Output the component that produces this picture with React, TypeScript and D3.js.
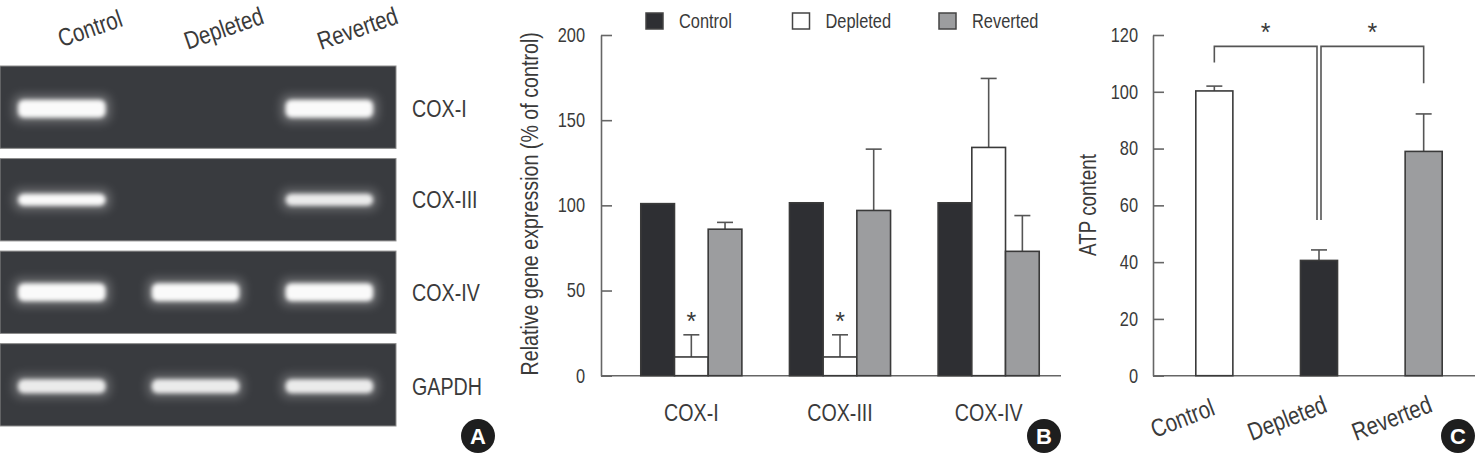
import React, { useEffect, useRef } from "react";
import * as d3 from "d3";

const W = 1475;
const H = 459;
const FONT = "'Liberation Sans', Arial, sans-serif";
const SX = 0.82; // horizontal condensing of text
const TEXT = "#3a3a3a";
const AXIS = "#666666";
const DARK = "#2e2f33";
const GRAY = "#9c9d9f";
const GEL = "#393b3f";

// ---- Panel A (gel) ----
const lanes = ["Control", "Depleted", "Reverted"];
const gelGenes = ["COX-I", "COX-III", "COX-IV", "GAPDH"];
const bandCOX1 = [1, 0, 1];
const bandCOX3 = [1, 0, 0.9];
const bandCOX4 = [1, 1, 1];
const bandGAPDH = [0.9, 0.9, 0.9];
const gelBands = [bandCOX1, bandCOX3, bandCOX4, bandGAPDH];

// ---- Panel B ----
const bGenes = ["COX-I", "COX-III", "COX-IV"];
const bSeries = ["Control", "Depleted", "Reverted"];
const controlExpr = [101, 101.5, 101.5];
const controlSD = [0, 0, 0];
const depletedExpr = [11, 11, 134];
const depletedSD = [13, 13, 40.5];
const revertedExpr = [86, 97, 73];
const revertedSD = [4, 36, 21];
const bTicks = [0, 50, 100, 150, 200];
const bStars = [true, true, false];
const bStarValue = 35.6;

// ---- Panel C ----
const atpGroups = ["Control", "Depleted", "Reverted"];
const atpMean = [100.3, 40.6, 79];
const atpSD = [1.7, 3.7, 13.2];
const cTicks = [0, 20, 40, 60, 80, 100, 120];
const brackets = [
  { from: "Control", to: "Depleted", top: 116, fromEnd: 110.3, toEnd: 54.8, side: -1 },
  { from: "Depleted", to: "Reverted", top: 116, fromEnd: 54.8, toEnd: 103, side: 1 },
];
const bracketStarValue = 123;

function T(props: {
  x: number;
  y: number;
  rotate?: number;
  size: number;
  anchor?: string;
  dy?: string;
  fill?: string;
  sx?: number;
  children: React.ReactNode;
}) {
  const { x, y, rotate = 0, size, anchor = "start", dy = "0.36em", fill = TEXT, sx = SX, children } = props;
  return (
    <text
      transform={`translate(${x},${y}) rotate(${rotate}) scale(${sx},1)`}
      dy={dy}
      textAnchor={anchor}
      fontFamily={FONT}
      fontSize={size}
      fill={fill}
    >
      {children}
    </text>
  );
}

export default function App() {
  const yAxisB = useRef<SVGGElement>(null);
  const yAxisC = useRef<SVGGElement>(null);

  // Panel A scales
  const xLane = d3.scaleBand<string>().domain(lanes).range([0, 396]).paddingInner(0.3).paddingOuter(0.13).align(0.43);
  const yRow = d3.scaleBand<string>().domain(gelGenes).range([66, 426]).paddingInner(0.11).paddingOuter(0);
  const bandH = [22, 16, 22, 18];
  const bandDy = [1.5, 0, 0, 1.5];

  // Panel B scales
  const yB = d3.scaleLinear().domain([0, 200]).range([375.7, 35]);
  const x0 = d3.scaleBand<string>().domain(bGenes).range([617, 1063]).paddingInner(0.32).paddingOuter(0.16);
  const x1 = d3.scaleBand<string>().domain(bSeries).range([0, x0.bandwidth()]);
  const bMeans = [controlExpr, depletedExpr, revertedExpr];
  const bSDs = [controlSD, depletedSD, revertedSD];
  const bFills = [DARK, "#ffffff", GRAY];

  // Panel C scales
  const yC = d3.scaleLinear().domain([0, 120]).range([375.7, 35]);
  const xC = d3.scaleBand<string>().domain(atpGroups).range([1162, 1476]).paddingInner(0.646).paddingOuter(0.323);
  const cFills = ["#ffffff", DARK, GRAY];

  useEffect(() => {
    const style = (g: any) => {
      g.attr("font-family", FONT).attr("font-size", 20).attr("color", AXIS);
      g.selectAll("text").attr("fill", TEXT).attr("transform", `scale(${SX},1)`);
      g.selectAll("line,path").attr("stroke-width", 1.6);
    };
    d3.select(yAxisB.current as SVGGElement)
      .call(d3.axisLeft(yB).tickValues(bTicks).tickSizeInner(-11).tickSizeOuter(0).tickPadding(16 / SX) as any)
      .call(style);
    d3.select(yAxisC.current as SVGGElement)
      .call(d3.axisLeft(yC).tickValues(cTicks).tickSizeInner(-11).tickSizeOuter(0).tickPadding(15 / SX) as any)
      .call(style);
  }, []);

  const badge = (cx: number, label: string) => (
    <g>
      <circle cx={cx} cy={436} r={17} fill="#1e1e1e" />
      <text x={cx} y={436} dy="0.36em" textAnchor="middle" fill="#fff" fontFamily={FONT} fontWeight="bold" fontSize={22}>
        {label}
      </text>
    </g>
  );

  return (
    <div style={{ position: "absolute", left: 0, top: 0, width: W, height: H, background: "#fff" }}>
      <svg width={W} height={H} style={{ display: "block" }}>
        <defs>
          <filter id="glow" x="-20%" y="-80%" width="140%" height="260%">
            <feGaussianBlur stdDeviation="2.2" />
          </filter>
          <filter id="halo" x="-30%" y="-150%" width="160%" height="400%">
            <feGaussianBlur stdDeviation="5" />
          </filter>
        </defs>

        {/* ---------------- Panel A ---------------- */}
        <g>
          {lanes.map((l) => (
            <T key={l} x={xLane(l)! + xLane.bandwidth() / 2 + 28} y={28} rotate={-19} size={25} anchor="middle">
              {l}
            </T>
          ))}
          {gelGenes.map((g, gi) => {
            const y = yRow(g)!;
            const cy = y + yRow.bandwidth() / 2 + bandDy[gi];
            const h = bandH[gi];
            return (
              <g key={g}>
                <rect x={0} y={y} width={396} height={yRow.bandwidth()} fill={GEL} stroke="#8c8c8c" strokeWidth={1} />
                {gelBands[gi].map((v, li) =>
                  v > 0 ? (
                    <g key={li}>
                      <rect
                        x={xLane(lanes[li])! - 2}
                        y={cy - h / 2 - 3}
                        width={xLane.bandwidth() + 4}
                        height={h + 6}
                        rx={8}
                        fill="#ffffff"
                        opacity={0.25 * v}
                        filter="url(#halo)"
                      />
                      <rect
                        x={xLane(lanes[li])! + 3}
                        y={cy - h / 2 + 2}
                        width={xLane.bandwidth() - 6}
                        height={h - 4}
                        rx={6}
                        fill="#fafafa"
                        opacity={v}
                        filter="url(#glow)"
                      />
                    </g>
                  ) : null
                )}
                <T x={412} y={cy} size={24}>
                  {g}
                </T>
              </g>
            );
          })}
          {badge(478, "A")}
        </g>

        {/* ---------------- Panel B ---------------- */}
        <g>
          {bSeries.map((s, si) => (
            <g key={s} transform={`translate(${646 + si * 146.5},13)`}>
              <rect x={0} y={0} width={17} height={16} fill={bFills[si]} stroke="#444" strokeWidth={1.5} />
              <T x={33} y={8} size={20}>
                {s}
              </T>
            </g>
          ))}
          <T x={530} y={(375.7 + 32) / 2} rotate={-90} size={24} anchor="middle" dy="0.35em">
            Relative gene expression (% of control)
          </T>
          <g ref={yAxisB} transform="translate(601,0)" />
          <line x1={601} x2={1061} y1={yB(0)} y2={yB(0)} stroke={AXIS} strokeWidth={1.6} />
          {bGenes.map((g, gi) => (
            <g key={g}>
              {bSeries.map((s, si) => {
                const x = x0(g)! + x1(s)!;
                const v = bMeans[si][gi];
                const sd = bSDs[si][gi];
                const cx = x + x1.bandwidth() / 2;
                return (
                  <g key={s}>
                    {sd > 0 && (
                      <g stroke="#555" strokeWidth={1.6}>
                        <line x1={cx} x2={cx} y1={yB(v)} y2={yB(v + sd)} />
                        <line x1={cx - 8} x2={cx + 8} y1={yB(v + sd)} y2={yB(v + sd)} />
                      </g>
                    )}
                    <rect x={x} y={yB(v)} width={x1.bandwidth()} height={yB(0) - yB(v)} fill={bFills[si]} stroke="#3a3a3a" strokeWidth={1.6} />
                    {si === 1 && bStars[gi] && (
                      <T x={cx} y={yB(bStarValue)} size={25} anchor="middle" dy="0.58em" sx={1}>
                        *
                      </T>
                    )}
                  </g>
                );
              })}
              <T x={x0(g)! + x0.bandwidth() / 2} y={412} size={24} anchor="middle">
                {g}
              </T>
            </g>
          ))}
          {badge(1044, "B")}
        </g>

        {/* ---------------- Panel C ---------------- */}
        <g>
          <T x={1088} y={205} rotate={-90} size={23} anchor="middle" dy="0.35em">
            ATP content
          </T>
          <g ref={yAxisC} transform="translate(1153,0)" />
          <line x1={1153} x2={1475} y1={yC(0)} y2={yC(0)} stroke={AXIS} strokeWidth={1.6} />
          {atpGroups.map((g, i) => {
            const x = xC(g)!;
            const cx = x + xC.bandwidth() / 2;
            const v = atpMean[i];
            return (
              <g key={g}>
                <g stroke="#555" strokeWidth={1.6}>
                  <line x1={cx} x2={cx} y1={yC(v)} y2={yC(v + atpSD[i])} />
                  <line x1={cx - 8} x2={cx + 8} y1={yC(v + atpSD[i])} y2={yC(v + atpSD[i])} />
                </g>
                <rect x={x} y={yC(v)} width={xC.bandwidth()} height={yC(0) - yC(v)} fill={cFills[i]} stroke="#3a3a3a" strokeWidth={1.6} />
                <T x={cx - 32} y={418} rotate={-21} size={25} anchor="middle" dy="0.35em">
                  {g}
                </T>
              </g>
            );
          })}
          {brackets.map((b, i) => {
            const xa = xC(b.from)! + xC.bandwidth() / 2 + (b.side === 1 ? 2 : 0);
            const xb = xC(b.to)! + xC.bandwidth() / 2 + (b.side === -1 ? -2 : 0);
            const yt = yC(b.top);
            return (
              <g key={i}>
                <path d={`M${xa},${yC(b.fromEnd)}V${yt}H${xb}V${yC(b.toEnd)}`} fill="none" stroke="#555" strokeWidth={1.6} />
                <T x={(xa + xb) / 2} y={yC(bracketStarValue)} size={25} anchor="middle" dy="0.58em" sx={1}>
                  *
                </T>
              </g>
            );
          })}
          {badge(1458, "C")}
        </g>
      </svg>
    </div>
  );
}
